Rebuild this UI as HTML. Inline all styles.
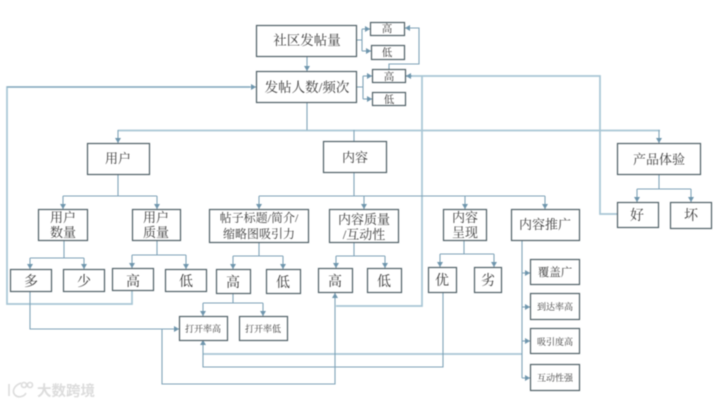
<!DOCTYPE html>
<html>
<head>
<meta charset="utf-8">
<style>
html,body{margin:0;padding:0;background:#fff;width:720px;height:405px;overflow:hidden}
svg{display:block;filter:blur(.4px)}
text{font-family:"Liberation Serif","Noto Serif CJK SC",serif;fill:#3a3a3a;text-anchor:middle}
.b rect{fill:#fff;stroke:#4f5f66;stroke-width:1.2}
.l{fill:none;stroke:#7fa3b8;stroke-width:1.1}
.t{fill:none;stroke:#a8c6d5;stroke-width:1.7}
.a{fill:#6f96ad}
</style>
</head>
<body>
<svg width="720" height="405" viewBox="0 0 720 405" xmlns="http://www.w3.org/2000/svg">
<defs>
<marker id="m" markerUnits="userSpaceOnUse" markerWidth="6" markerHeight="6" refX="5" refY="3" orient="auto"><path d="M0,0L5,3L0,6Z" class="a"/></marker>
</defs>

<!-- thick light lines -->
<path class="t" d="M118,130.500H660"/>
<path class="t" d="M406,76H600V214H617"/>
<path class="t" d="M422,76V306H336"/>
<path class="t" d="M522,354H203"/>
<path class="t" d="M132,291V304H7V87H250"/>

<!-- connectors -->
<g class="l">
<path d="M307,56V71" marker-end="url(#m)"/>
<path d="M357,40H362M362,29V51"/>
<path d="M362,29H370" marker-end="url(#m)"/>
<path d="M362,51H371" marker-end="url(#m)"/>
<path d="M357,87H363M363,76V99"/>
<path d="M363,76H372" marker-end="url(#m)"/>
<path d="M363,99H372" marker-end="url(#m)"/>
<path d="M389,69V64H419V28H405" marker-end="url(#m)"/>
<path d="M412,76H406" marker-end="url(#m)"/>
<path d="M7,87H256" marker-end="url(#m)"/>
<path d="M307,102V130"/>
<path d="M118,130V143" marker-end="url(#m)"/>
<path d="M354,130V141"/>
<path d="M659,130V143" marker-end="url(#m)"/>

<path d="M118,174V196M63,196H157"/>
<path d="M63,196V209" marker-end="url(#m)"/>
<path d="M157,196V209" marker-end="url(#m)"/>

<path d="M354,173V196M259,196H545"/>
<path d="M259,196V209" marker-end="url(#m)"/>
<path d="M364,196V209" marker-end="url(#m)"/>
<path d="M465,196V209" marker-end="url(#m)"/>
<path d="M545,196V209" marker-end="url(#m)"/>

<path d="M659,174V189M637,189H691"/>
<path d="M637,189V202" marker-end="url(#m)"/>
<path d="M691,189V202" marker-end="url(#m)"/>

<path d="M64,240V258M30,258H84"/>
<path d="M30,258V269" marker-end="url(#m)"/>
<path d="M84,258V269" marker-end="url(#m)"/>

<path d="M157,240V255M132,255H186"/>
<path d="M132,255V268" marker-end="url(#m)"/>
<path d="M186,255V269" marker-end="url(#m)"/>

<path d="M259,242V256M233,256H283"/>
<path d="M233,256V269" marker-end="url(#m)"/>
<path d="M283,256V269" marker-end="url(#m)"/>

<path d="M354,242V256M336,256H385"/>
<path d="M336,256V268" marker-end="url(#m)"/>
<path d="M385,256V268" marker-end="url(#m)"/>

<path d="M464,240V254M440,254H494"/>
<path d="M440,254V267" marker-end="url(#m)"/>
<path d="M494,254V267" marker-end="url(#m)"/>

<path d="M522,240V378"/>
<path d="M522,273H530" marker-end="url(#m)"/>
<path d="M522,307H530" marker-end="url(#m)"/>
<path d="M522,341H530" marker-end="url(#m)"/>
<path d="M522,378H530" marker-end="url(#m)"/>

<path d="M233,294V303M203,303H263"/>
<path d="M203,303V316" marker-end="url(#m)"/>
<path d="M263,303V316" marker-end="url(#m)"/>

<path d="M30,292V329H179" marker-end="url(#m)"/>
<path d="M443,293V367H203V340" marker-end="url(#m)"/>
<path d="M162,329V384H335V293" marker-end="url(#m)"/>
</g>

<!-- boxes -->
<g class="b">
<rect x="256.500" y="25.500" width="100" height="31"/>
<rect x="256.500" y="71.500" width="100" height="31"/>
<rect x="370.500" y="22.500" width="34" height="13"/>
<rect x="371.500" y="45.500" width="33" height="14"/>
<rect x="372.500" y="69.500" width="33" height="13"/>
<rect x="372.500" y="92.500" width="33" height="13"/>
<rect x="87.500" y="143.500" width="62" height="31"/>
<rect x="323.500" y="141.500" width="63" height="31"/>
<rect x="617.500" y="143.500" width="83" height="31"/>
<rect x="38.500" y="209.500" width="49" height="31"/>
<rect x="132.500" y="209.500" width="48" height="31"/>
<rect x="209.500" y="209.500" width="99" height="33"/>
<rect x="329.500" y="209.500" width="69" height="33"/>
<rect x="443.500" y="209.500" width="43" height="31"/>
<rect x="511.500" y="209.500" width="68" height="31"/>
<rect x="617.500" y="202.500" width="41" height="25"/>
<rect x="670.500" y="202.500" width="41" height="26"/>
<rect x="10.500" y="269.500" width="41" height="22"/>
<rect x="63.500" y="269.500" width="41" height="22"/>
<rect x="112.500" y="268.500" width="41" height="22"/>
<rect x="165.500" y="269.500" width="41" height="22"/>
<rect x="216.500" y="269.500" width="34" height="24"/>
<rect x="266.500" y="269.500" width="34" height="24"/>
<rect x="318.500" y="268.500" width="34" height="24"/>
<rect x="367.500" y="268.500" width="34" height="24"/>
<rect x="428.500" y="267.500" width="28" height="25"/>
<rect x="474.500" y="267.500" width="27" height="25"/>
<rect x="530.500" y="259.500" width="49" height="25"/>
<rect x="530.500" y="293.500" width="49" height="26"/>
<rect x="530.500" y="328.500" width="49" height="25"/>
<rect x="530.500" y="364.500" width="49" height="26"/>
<rect x="179.500" y="316.500" width="48" height="24"/>
<rect x="239.500" y="316.500" width="48" height="24"/>
</g>

<!-- labels -->
<g font-size="13">
<text x="307" y="45" font-size="13.500">社区发帖量</text>
<text x="307" y="92" font-size="13.500">发帖人数/频次</text>
<text x="118" y="163">用户</text>
<text x="355" y="162">内容</text>
<text x="659" y="164">产品体验</text>
<text x="63" y="222">用户</text>
<text x="63" y="237">数量</text>
<text x="156" y="222">用户</text>
<text x="156" y="237">质量</text>
<text x="364" y="224">内容质量</text>
<text x="364" y="239">/互动性</text>
<text x="465" y="222">内容</text>
<text x="465" y="237">呈现</text>
<text x="545" y="229">内容推广</text>
</g>
<g font-size="12">
<text x="259" y="222">帖子标题/简介/</text>
<text x="259" y="238">缩略图吸引力</text>
</g>
<g font-size="10.500">
<text x="387" y="32">高</text>
<text x="387" y="56">低</text>
<text x="389" y="80">高</text>
<text x="389" y="103">低</text>
</g>
<g font-size="14">
<text x="637" y="220">好</text>
<text x="691" y="220">坏</text>
<text x="31" y="286">多</text>
<text x="84" y="286">少</text>
<text x="133" y="286">高</text>
<text x="186" y="286">低</text>
<text x="233" y="287">高</text>
<text x="283" y="287">低</text>
<text x="335" y="286">高</text>
<text x="384" y="286">低</text>
<text x="442" y="285">优</text>
<text x="488" y="285">劣</text>
</g>
<text x="555" y="276" font-size="11.500">覆盖广</text>
<g font-size="9">
<text x="555" y="310">到达率高</text>
<text x="555" y="345">吸引度高</text>
<text x="555" y="381">互动性强</text>
<text x="203" y="332">打开率高</text>
<text x="263" y="332">打开率低</text>
</g>

<!-- watermark -->
<g fill="none" stroke="#dcdcdc" stroke-width="1.600">
<path d="M9,384V396"/>
<path d="M21,383C13,386 12,392 15,395C18,398 24,397 26,393"/>
<circle cx="24" cy="385" r="2.500"/>
<circle cx="30" cy="385" r="2.500"/>
</g>
<text x="66" y="396" font-size="14.500" style="fill:#dcdcdc;font-weight:700;font-family:'Liberation Sans','Noto Sans CJK SC',sans-serif">大数跨境</text>
</svg>
</body>
</html>
